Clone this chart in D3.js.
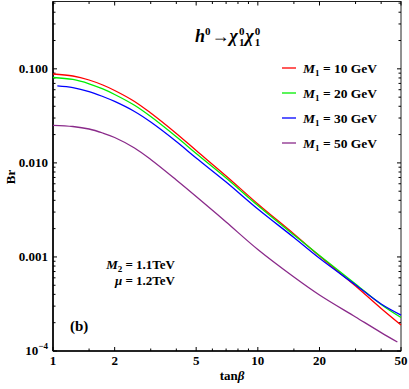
<!DOCTYPE html>
<html>
<head>
<meta charset="utf-8">
<script src="https://cdn.jsdelivr.net/npm/d3@7"></script>
<style>
  body { margin: 0; background: #fff; }
  text { font-family: "Liberation Serif", "Times New Roman", serif; font-weight: bold; }
</style>
</head>
<body>
<div id="chart-area"></div>
<script>

// tan(beta) sample points
var tanB = [1, 1.25, 1.5, 1.75, 2, 2.5, 3, 4, 5, 7, 10, 15, 20, 30, 40, 50];
var tanBBlue = [1.05, 1.25, 1.5, 1.75, 2, 2.5, 3, 4, 5, 7, 10, 15, 20, 30, 40, 50];
var tanBPurple = [1, 1.25, 1.5, 1.75, 2, 2.5, 3, 4, 5, 7, 10, 15, 20, 30, 40, 48];

// Br values
var brM10 = [0.0881, 0.0839, 0.0761, 0.0673, 0.0589, 0.0450, 0.0339, 0.02055, 0.01354, 0.00726,
             0.00366, 0.001754, 0.001023, 0.000491, 0.000283, 0.000189];
var brM20 = [0.0809, 0.0771, 0.0694, 0.0611, 0.0534, 0.0410, 0.0311, 0.01895, 0.01259, 0.00691,
             0.003524, 0.001711, 0.001036, 0.000516, 0.000312, 0.000227];
var brM30 = [0.0660, 0.0633, 0.0574, 0.0508, 0.0450, 0.0352, 0.0272, 0.01689, 0.01128, 0.006265,
             0.003235, 0.00161, 0.000967, 0.000503, 0.000316, 0.000241];
var brM50 = [0.02511, 0.02438, 0.02293, 0.02079, 0.01863, 0.0144, 0.01087, 0.00658, 0.004392, 0.002352,
             0.0012, 0.000612, 0.000394, 0.00023, 0.000157, 0.0001246];

var legendLabels = ["10", "20", "30", "50"];
var colors = ["#ff0000", "#00ee00", "#0000ff", "#8a2a8a"];

var xTicks = [1, 2, 5, 10, 20, 50];
var xMinor = [1.5, 3, 4, 6, 7, 8, 9, 15, 30, 40];
var yTicks = [0.0001, 0.001, 0.01, 0.1];
var yTickLabels = ["", "0.001", "0.010", "0.100"];

var series = [
    {x: tanB, y: brM10},
    {x: tanB, y: brM20},
    {x: tanBBlue, y: brM30},
    {x: tanBPurple, y: brM50}
];

var margin = {top: 1.5, right: 8, bottom: 38, left: 53},
    width = 409 - margin.left - margin.right,
    height = 389 - margin.top - margin.bottom;

var svg = d3.select("#chart-area")
    .append("svg")
        .attr("width", 409)
        .attr("height", 389);

var g = svg.append("g")
        .attr("transform", "translate(" + margin.left + "," + margin.top + ")");

var xScale = d3.scaleLog().domain([1, 50]).range([0, width]);
var yScale = d3.scaleLog().domain([0.0001, 0.52]).range([height, 0]);

// minor y ticks: 2..9 in each decade
var yMinor = [];
[0.0001, 0.001, 0.01, 0.1].forEach(function(d) {
    for (var k = 2; k <= 9; k++) {
        if (d * k <= 0.52) yMinor.push(d * k);
    }
});

// frame
g.append("rect")
    .attr("width", width)
    .attr("height", height)
    .attr("fill", "none")
    .attr("stroke", "#222")
    .attr("stroke-width", 1);

// ticks pointing inward on all four sides
function tickLines(vals, len, horizontal) {
    vals.forEach(function(v) {
        if (horizontal) {
            var x = xScale(v);
            g.append("line").attr("x1", x).attr("x2", x).attr("y1", height).attr("y2", height - len)
                .attr("stroke", "#000").attr("stroke-width", 1);
            g.append("line").attr("x1", x).attr("x2", x).attr("y1", 0).attr("y2", len)
                .attr("stroke", "#000").attr("stroke-width", 1);
        } else {
            var y = yScale(v);
            g.append("line").attr("x1", 0).attr("x2", len).attr("y1", y).attr("y2", y)
                .attr("stroke", "#000").attr("stroke-width", 1);
            g.append("line").attr("x1", width).attr("x2", width - len).attr("y1", y).attr("y2", y)
                .attr("stroke", "#000").attr("stroke-width", 1);
        }
    });
}
tickLines(xTicks, 4, true);
tickLines(xMinor, 2.5, true);
tickLines(yTicks, 4, false);
tickLines(yMinor, 2.5, false);

// thicker left/bottom axes
g.append("line").attr("x1", 0).attr("x2", 0).attr("y1", 0).attr("y2", height)
    .attr("stroke", "#000").attr("stroke-width", 1.6);
g.append("line").attr("x1", 0).attr("x2", width).attr("y1", height).attr("y2", height)
    .attr("stroke", "#000").attr("stroke-width", 1.6);

// x tick labels
g.selectAll(".xl")
    .data(xTicks)
    .enter().append("text")
    .attr("x", function(d) { return xScale(d); })
    .attr("y", height + 14)
    .attr("text-anchor", "middle")
    .attr("font-size", 13)
    .text(function(d) { return d; });

// y tick labels
g.selectAll(".yl")
    .data(yTicks)
    .enter().append("text")
    .attr("x", -5)
    .attr("y", function(d) { return yScale(d) + 4; })
    .attr("text-anchor", "end")
    .attr("font-size", 13)
    .text(function(d, i) { return yTickLabels[i]; });

var ylow = g.append("text")
    .attr("x", -5)
    .attr("y", yScale(0.0001) + 4)
    .attr("text-anchor", "end")
    .attr("font-size", 13);
ylow.append("tspan").text("10");
ylow.append("tspan").attr("font-size", 9).attr("dy", -6).text("\u22124");

// curves
var line = d3.line()
    .x(function(d) { return xScale(d[0]); })
    .y(function(d) { return yScale(d[1]); })
    .curve(d3.curveCatmullRom.alpha(0.5));

series.forEach(function(s, i) {
    g.append("path")
        .datum(d3.zip(s.x, s.y))
        .attr("fill", "none")
        .attr("stroke", colors[i])
        .attr("stroke-width", 1.3)
        .attr("d", line);
});

// axis labels
svg.append("text")
    .attr("transform", "translate(15,177) rotate(-90)")
    .attr("text-anchor", "middle")
    .attr("font-size", 13)
    .text("Br");

var xl = svg.append("text")
    .attr("x", 232)
    .attr("y", 380)
    .attr("text-anchor", "middle")
    .attr("font-size", 13);
xl.append("tspan").text("tan");
xl.append("tspan").attr("font-style", "italic").text("\u03b2");

// title
var title = svg.append("text")
    .attr("x", 195)
    .attr("y", 42)
    .attr("font-size", 18)
    .attr("font-style", "italic");
title.append("tspan").text("h");
title.append("tspan").attr("font-size", 11).attr("font-style", "normal").attr("dy", -7).text("0");
title.append("tspan").attr("font-style", "normal").attr("dx", 1).attr("dy", 7).text("\u2192");
title.append("tspan").text("\u03c7");
title.append("tspan").attr("font-size", 11).attr("font-style", "normal").attr("dx", 1).attr("dy", -7).text("0");
title.append("tspan").attr("font-size", 11).attr("font-style", "normal").attr("dx", -5.5).attr("dy", 11).text("1");
title.append("tspan").attr("dx", 1).attr("dy", -4).text("\u03c7");
title.append("tspan").attr("font-size", 11).attr("font-style", "normal").attr("dx", 1).attr("dy", -7).text("0");
title.append("tspan").attr("font-size", 11).attr("font-style", "normal").attr("dx", -5.5).attr("dy", 11).text("1");

// legend
legendLabels.forEach(function(lab, i) {
    var y = 68 + i * 25;
    svg.append("line")
        .attr("x1", 282).attr("x2", 296)
        .attr("y1", y).attr("y2", y)
        .attr("stroke", colors[i])
        .attr("stroke-width", 1.3);
    var t = svg.append("text")
        .attr("x", 303)
        .attr("y", y + 4.5)
        .attr("font-size", 13.5);
    t.append("tspan").attr("font-style", "italic").text("M");
    t.append("tspan").attr("font-size", 9).attr("dy", 3).text("1");
    t.append("tspan").attr("dy", -3).text(" = " + lab + " GeV");
});

// annotations
var a1 = svg.append("text")
    .attr("x", 175).attr("y", 269)
    .attr("text-anchor", "end")
    .attr("font-size", 13);
a1.append("tspan").attr("font-style", "italic").text("M");
a1.append("tspan").attr("font-size", 9).attr("dy", 3).text("2");
a1.append("tspan").attr("dy", -3).text(" = 1.1TeV");

var a2 = svg.append("text")
    .attr("x", 175).attr("y", 285)
    .attr("text-anchor", "end")
    .attr("font-size", 13);
a2.append("tspan").attr("font-style", "italic").text("\u03bc");
a2.append("tspan").text(" = 1.2TeV");

svg.append("text")
    .attr("x", 70).attr("y", 331)
    .attr("font-size", 15)
    .text("(b)");

</script>
</body>
</html>
